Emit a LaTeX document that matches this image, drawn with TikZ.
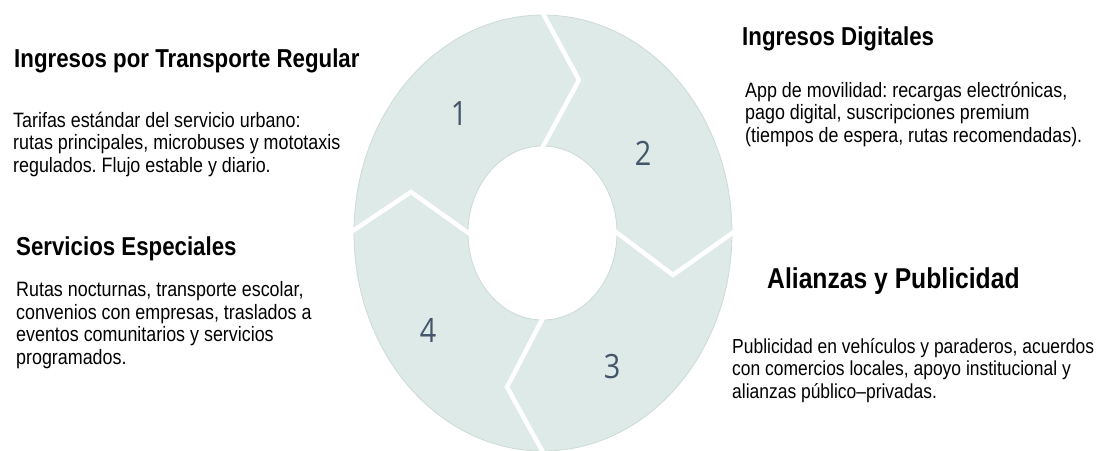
\documentclass[tikz,border=0pt]{standalone}
\usepackage{fontspec}
\setmainfont{Liberation Sans}[FakeStretch=0.86]
\newfontfamily\numfont{Open Sans}[FakeStretch=0.86]
\usetikzlibrary{calc}
\definecolor{ringfill}{HTML}{DEEAE7}
\definecolor{ringedge}{HTML}{CCDAD6}
\definecolor{numcol}{HTML}{44546A}
\frenchspacing

\begin{document}
\begin{tikzpicture}[x=1pt,y=-1pt,
    title/.style={anchor=base west, inner sep=0, font=\fontsize{25.9}{30}\selectfont\bfseries},
    body/.style={anchor=base west, inner sep=0, align=left, font=\fontsize{20.8}{22.5}\selectfont},
    num/.style={inner sep=0, text=numcol, font=\fontsize{33.5}{34}\numfont},
    gap/.style={white, line width=4.5pt}]
  \useasboundingbox (0,0) rectangle (1100,450);
  %ring filled as one piece, gaps cut in white
  \fill[ringfill, draw=ringedge, line width=0.8pt, even odd rule]
    (543,233) ellipse[x radius=189, y radius=218]
    (542.5,233) ellipse[x radius=74.5, y radius=87];
  %% outer end, tip, inner end of each gap
  \coordinate (o1) at (540,8);   \coordinate (p1) at (579,80);  \coordinate (i1) at (540,152);
  \coordinate (o2) at (738,229); \coordinate (p2) at (673,275); \coordinate (i2) at (612,229);
  \coordinate (o3) at (545,456); \coordinate (p3) at (507,387); \coordinate (i3) at (545,314);
  \coordinate (o4) at (348,234); \coordinate (p4) at (411,192); \coordinate (i4) at (474,237);
  \foreach \k in {1,2,3,4}{
    \draw[gap] (o\k) -- (p\k) -- (i\k);
  }
  \node[num] (n1) at (459,114) {1};
  \node[num] (n2) at (643,153) {2};
  \node[num] (n3) at (612,367) {3};
  \node[num] (n4) at (428,330) {4};

  %% body blocks sit on the baseline of their last line
  \node[title] (treg) at (14,67) {Ingresos por Transporte Regular};
  \node[body] (breg) at (13,172) {Tarifas estándar del servicio urbano:\\rutas principales, microbuses y mototaxis\\regulados. Flujo estable y diario.};
  \node[title] (tdig) at (742,45) {Ingresos Digitales};
  \node[body] (bdig) at (745,142) {App de movilidad: recargas electrónicas,\\pago digital, suscripciones premium\\(tiempos de espera, rutas recomendadas).};
  \node[title] (tesp) at (16,255) {Servicios Especiales};
  \node[body] (besp) at (16,364) {Rutas nocturnas, transporte escolar,\\convenios con empresas, traslados a\\eventos comunitarios y servicios\\programados.};
  \node[title, font=\fontsize{28.7}{33}\selectfont\bfseries] (tali) at (767,288) {Alianzas y Publicidad};
  \node[body, font=\fontsize{20.3}{22.5}\selectfont] (bali) at (732,398) {Publicidad en vehículos y paraderos, acuerdos\\con comercios locales, apoyo institucional y\\alianzas público–privadas.};
\end{tikzpicture}
\end{document}
